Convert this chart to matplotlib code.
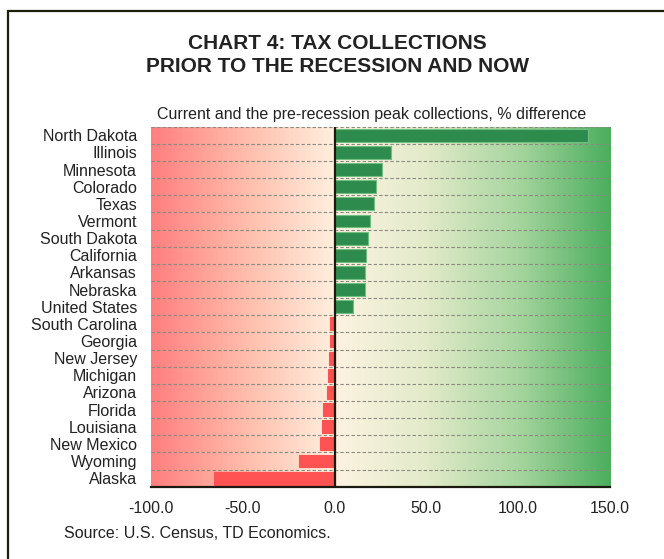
import matplotlib
matplotlib.use("Agg")
import matplotlib.pyplot as plt
import numpy as np
from matplotlib.colors import LinearSegmentedColormap
from matplotlib.patches import Rectangle

plt.rcParams['font.family'] = ['Liberation Sans', 'DejaVu Sans']

states = ["North Dakota", "Illinois", "Minnesota", "Colorado", "Texas", "Vermont",
          "South Dakota", "California", "Arkansas", "Nebraska", "United States",
          "South Carolina", "Georgia", "New Jersey", "Michigan", "Arizona", "Florida",
          "Louisiana", "New Mexico", "Wyoming", "Alaska"]
values = [137.9, 30.8, 25.9, 22.6, 21.3, 19.5, 18.2, 17.1, 16.8, 16.6, 10.2,
          -2.4, -2.4, -2.9, -3.4, -4.0, -6.2, -6.7, -7.8, -19.3, -65.7]
xticks = [-100, -50, 0, 50, 100, 150]
xticklabels = ["-100.0", "-50.0", "0.0", "50.0", "100.0", "150.0"]

W, H = 664, 559
fig = plt.figure(figsize=(W/100, H/100), dpi=100)
txtc = '#222222'

# border
fig.patches.append(Rectangle((7.5/W, -0.01), 1.0, (H-11)/H + 0.01, transform=fig.transFigure,
                             fill=False, edgecolor='#1a1e0a', linewidth=1.6))

left, right, top, bottom = 151, 610, 126.7, 486.7
ax = fig.add_axes([left/W, 1-bottom/H, (right-left)/W, (bottom-top)/H])

xmin, xmax = -100, 150
n = len(states)
ax.set_xlim(xmin, xmax)
ax.set_ylim(n - 0.5, -0.5)

# gradient background
cmap = LinearSegmentedColormap.from_list('bg', [
    (0.0, '#FF7F7F'),
    (0.2, '#FFBBAA'),
    (0.4, '#FFF0DF'),
    (0.42, '#FAF2DF'),
    (0.6, '#E2EAC9'),
    (0.8, '#A6D59E'),
    (1.0, '#4BAE5E'),
])
grad = np.linspace(0, 1, 512).reshape(1, -1)
ax.imshow(grad, aspect='auto', cmap=cmap, extent=[xmin, xmax, n - 0.5, -0.5], zorder=0)

y = np.arange(n)
colors = ['#2E8B4E' if v > 0 else '#FF5252' for v in values]
edges = ['#6FBF80' if v > 0 else '#FF5252' for v in values]
ax.barh(y, values, height=0.75, color=colors, edgecolor=edges, linewidth=0.8, zorder=3)

for b in np.arange(-0.5, n - 0.4, 1):
    ax.axhline(b, color='#8a8a80', linestyle=(0, (3, 2)), linewidth=0.8, zorder=2)
ax.axvline(0, color='#1a1a10', linewidth=1.6, zorder=4)

ax.set_yticks(y)
ax.set_yticklabels(states, fontsize=11.5, color=txtc)
ax.set_xticks(xticks)
ax.set_xticklabels(xticklabels, fontsize=11.5, color=txtc)
ax.tick_params(axis='both', length=0)
ax.tick_params(axis='x', pad=10)
ax.tick_params(axis='y', pad=10)
for s in ['top', 'right', 'left']:
    ax.spines[s].set_visible(False)
ax.spines['bottom'].set_color('#1a1a10')
ax.spines['bottom'].set_linewidth(1.6)
ax.spines['bottom'].set_zorder(5)

fig.text(337.5/W, 1-43.5/H, "CHART 4: TAX COLLECTIONS", ha='center', va='center',
         fontsize=15, fontweight='bold', color=txtc)
fig.text(337.5/W, 1-67/H, "PRIOR TO THE RECESSION AND NOW", ha='center', va='center',
         fontsize=15, fontweight='bold', color=txtc)
fig.text(157/W, 1-114.5/H, "Current and the pre-recession peak collections, % difference",
         ha='left', va='center', fontsize=11.5, color=txtc)
fig.text(64/W, 1-534/H, "Source: U.S. Census, TD Economics.", ha='left', va='center',
         fontsize=11.5, color=txtc)

fig.savefig("out.png", dpi=100)
